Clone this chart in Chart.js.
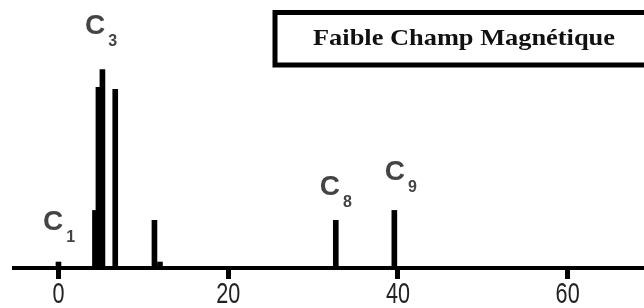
<!DOCTYPE html>
<html>
<head>
<meta charset="utf-8">
<script src="https://cdn.jsdelivr.net/npm/chart.js@4"></script>
<style>
  html, body { margin: 0; padding: 0; background: #fff; }
  #wrap { width: 644px; height: 308px; }
</style>
</head>
<body>
<div id="wrap"><canvas id="spectre" width="644" height="308"></canvas></div>
<script>
// positions des raies (axe x) et intensites relatives
const peakPos = [0, 4.3, 4.71, 5.18, 6.69, 11.31, 11.96, 32.68, 39.58];
const peakInt = [3, 29, 91, 100, 90, 24, 3, 24, 29];
const xTicks = [0, 20, 40, 60];

// etiquettes des raies : texte, indice, coin bas-gauche du "C" (unites des axes)
const labelText = ['C', 'C', 'C', 'C'];
const labelSub = ['1', '3', '8', '9'];
const labelX = [-1.83, 3.12, 30.8, 38.45];
const labelY = [19.1, 118.1, 36.7, 44.2];

const legendTitle = 'Faible Champ Magnétique';

// etiquettes C1, C3, ...
const peakLabels = {
    id: 'peakLabels',
    afterDatasetsDraw(chart) {
        const ctx = chart.ctx;
        const xs = chart.scales.x, ys = chart.scales.y;
        ctx.save();
        ctx.fillStyle = '#444';
        ctx.textBaseline = 'alphabetic';
        for (let i = 0; i < labelText.length; i++) {
            const px = xs.getPixelForValue(labelX[i]);
            const py = ys.getPixelForValue(labelY[i]);
            ctx.font = 'bold 28px "Liberation Sans", Arial, sans-serif';
            ctx.fillText(labelText[i], px, py);
            const w = ctx.measureText(labelText[i]).width;
            ctx.font = 'bold 16px "Liberation Sans", Arial, sans-serif';
            ctx.fillText(labelSub[i], px + w + 3, py + 12);
        }
        ctx.restore();
    }
};

// libelles de l'axe x, etroits comme sur l'original
const narrowTicks = {
    id: 'narrowTicks',
    afterDraw(chart) {
        const ctx = chart.ctx;
        const xs = chart.scales.x;
        ctx.save();
        ctx.fillStyle = '#222';
        ctx.font = '30px "Liberation Sans", Arial, sans-serif';
        ctx.textAlign = 'center';
        ctx.textBaseline = 'alphabetic';
        xs.ticks.forEach(t => {
            const px = xs.getPixelForValue(t.value);
            ctx.save();
            ctx.translate(px, 303);
            ctx.scale(0.72, 1);
            ctx.fillText(String(t.value), 0, 0);
            ctx.restore();
        });
        ctx.restore();
    }
};

// cadre de legende en haut a droite
const titleBox = {
    id: 'titleBox',
    afterDraw(chart) {
        const ctx = chart.ctx;
        ctx.save();
        ctx.strokeStyle = '#000';
        ctx.lineWidth = 5;
        ctx.strokeRect(275, 12.5, 380, 52.5);
        ctx.font = 'bold 24px "Liberation Serif", "Times New Roman", serif';
        ctx.fillStyle = '#111';
        ctx.textBaseline = 'alphabetic';
        const w = ctx.measureText(legendTitle).width;
        const target = 302;
        ctx.translate(464, 45);
        ctx.scale(target / w, 1);
        ctx.textAlign = 'center';
        ctx.fillText(legendTitle, 0, 0);
        ctx.restore();
    }
};

new Chart(document.getElementById('spectre'), {
    type: 'bar',
    data: {
        datasets: [{
            data: peakPos.map((p, i) => ({ x: p, y: peakInt[i] })),
            backgroundColor: '#000',
            borderWidth: 0,
            barThickness: 5,
            grouped: false
        }]
    },
    options: {
        responsive: false,
        animation: false,
        layout: { padding: { left: 14, right: 0, top: 0, bottom: 0 } },
        plugins: { legend: { display: false }, tooltip: { enabled: false } },
        scales: {
            x: {
                type: 'linear',
                min: -5.24,
                max: 69,
                offset: false,
                afterBuildTicks: (scale) => { scale.ticks = xTicks.map(v => ({ value: v })); },
                afterFit: (scale) => { scale.height = 40; },
                border: { display: true, width: 4, color: '#000' },
                grid: { display: true, offset: false, drawOnChartArea: false, drawTicks: true, tickLength: 11, tickWidth: 5, tickColor: '#000' },
                ticks: { display: false }
            },
            y: {
                display: false,
                min: 0,
                max: 135
            }
        }
    },
    plugins: [peakLabels, narrowTicks, titleBox]
});
</script>
</body>
</html>
